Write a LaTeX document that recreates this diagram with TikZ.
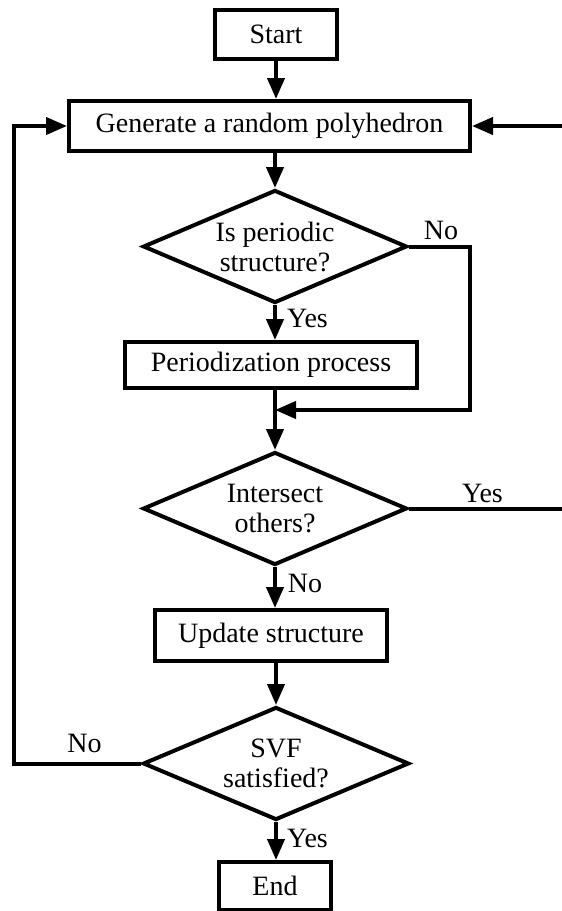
\documentclass[tikz,border=0pt]{standalone}
\usepackage{fontspec}
\setmainfont{Liberation Serif}
\usetikzlibrary{arrows.meta,shapes.geometric}
\begin{document}
\begin{tikzpicture}[x=1pt,y=-1pt,
  every node/.style={font=\fontsize{28}{30}\selectfont},
  procbox/.style={draw, line width=4pt, rectangle, inner sep=0pt, align=center},
  decide/.style={draw, line width=4pt, diamond, aspect=2.34, inner sep=0pt, align=center},
  flow/.style={line width=4pt, -{Triangle[length=21pt,width=17pt]}},
  lbl/.style={inner sep=0pt}]
\fill[white] (0,0) rectangle (562,911);
\clip (0,0) rectangle (562,911);

\node[procbox, minimum width=122pt, minimum height=49pt] (start) at (276,34.5) {Start};
\node[procbox, minimum width=401pt, minimum height=50pt] (gen) at (269.5,126) {Generate a random polyhedron};
\node[decide, minimum width=264pt, minimum height=113pt] (d1) at (275,246.5) {Is periodic\\structure?};
\node[procbox, minimum width=292pt, minimum height=46pt] (per) at (271,365) {Periodization process};
\node[decide, minimum width=264pt, minimum height=113pt] (d2) at (275,508.5) {Intersect\\others?};
\node[procbox, minimum width=232pt, minimum height=51pt] (upd) at (271,635.5) {Update structure};
\node[decide, minimum width=266pt, minimum height=113pt] (d3) at (276,763.5) {SVF\\satisfied?};
\node[procbox, minimum width=112pt, minimum height=48pt] (end) at (275,886) {End};

\coordinate (n1) at (470,246.5);
\coordinate (m1) at (470,410);
\coordinate (lft) at (14,763.5);
\coordinate (rgt) at (568,508.5);

\draw[flow] (start.south) -- (start.south |- gen.north);
\draw[flow] (d1.north |- gen.south) -- (d1.north);
\draw[flow] (d1.south) -- (d1.south |- per.north);
\draw[flow] (d2.north |- per.south) -- (d2.north);
\draw[flow] (d1.east) -- (n1) |- (d2.north |- m1);
\draw[flow] (d2.south) -- (d2.south |- upd.north);
\draw[flow] (d3.north |- upd.south) -- (d3.north);
\draw[flow] (d3.south) -- (d3.south |- end.north);
\draw[flow] (d3.west) -- (lft) |- (gen.west);
\draw[flow] (d2.east) -- (rgt) |- (gen.east);

\node[lbl] (no1) at (441,230) {No};
\node[lbl] (yes1) at (307.5,318) {Yes};
\node[lbl] (yes2) at (482.5,493) {Yes};
\node[lbl] (no2) at (305,583) {No};
\node[lbl] (no3) at (84.5,743) {No};
\node[lbl] (yes3) at (307.5,838) {Yes};
\end{tikzpicture}
\end{document}
